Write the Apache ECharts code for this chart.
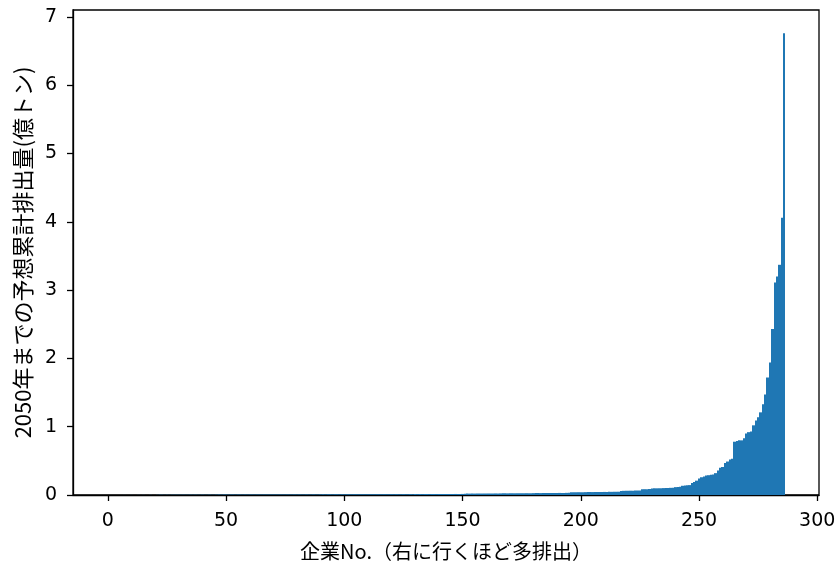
<!DOCTYPE html>
<html>
<head>
<meta charset="utf-8">
<script src="https://cdn.jsdelivr.net/npm/echarts@6/dist/echarts.min.js"></script>
<style>html,body{margin:0;padding:0;background:#fff}#c{width:840px;height:567px}</style>
</head>
<body>
<div id="c"></div>
<script>
const xTicks = [0, 50, 100, 150, 200, 250, 300];
const yTicks = [0, 1, 2, 3, 4, 5, 6, 7];
const xLabel = '企業No.（右に行くほど多排出）';
const yLabel = '2050年までの予想累計排出量(億トン)';
// 2050年までの予想累計排出量(億トン), sorted ascending, companies 0..286
const emissionsLow = [
  0.0001,0.0001,0.0002,0.0003,0.0003,0.0004,0.0005,0.0006,0.0006,0.0007,
  0.0008,0.0009,0.0010,0.0011,0.0011,0.0012,0.0013,0.0014,0.0015,0.0016,
  0.0017,0.0018,0.0020,0.0021,0.0022,0.0024,0.0025,0.0027,
  0.0040,0.0041,0.0042,0.0042,0.0043,0.0044,0.0045,0.0046,0.0046,0.0047,0.0048,0.0049,
  0.0050,0.0050,0.0051,0.0052,0.0053,0.0053,0.0054,0.0055,0.0056,0.0057,
  0.0057,0.0058,0.0059,0.0060,0.0061,0.0061,0.0062,0.0063,0.0064,0.0065,
  0.0066,0.0066,0.0067,0.0068,0.0069,0.0070,0.0070,0.0071,0.0072,0.0073,
  0.0074,0.0075,0.0075,0.0076,0.0077,0.0078,0.0079,0.0080,0.0080,0.0081,
  0.0082,0.0083,0.0084,0.0085,0.0086,0.0086,0.0087,0.0088,0.0089,0.0090,
  0.0091,0.0092,0.0093,0.0094,0.0094,0.0095,0.0096,0.0097,0.0098,0.0099,
  0.0100,0.0101,0.0102,0.0103,0.0104,0.0104,0.0105,0.0106,0.0107,0.0108,
  0.0109,0.0110,0.0111,0.0112,0.0113,0.0114,0.0115,0.0116,0.0117,0.0118,
  0.0119,0.0120,0.0121,0.0122,0.0123,0.0124,0.0125,0.0126,0.0127,0.0128,
  0.0129,0.0130,0.0131,0.0133,0.0134,0.0135,0.0136,0.0138,0.0139,0.0140,
  0.0142,0.0143,0.0145,0.0146,0.0148,0.0150,0.0151,0.0153,0.0155,0.0157,0.0159
];
const emissionsMid = [
  0.0200,0.0202,0.0205,0.0207,0.0210,0.0212,0.0214,0.0217,0.0219,0.0221,
  0.0224,0.0226,0.0229,0.0231,0.0233,0.0236,0.0238,0.0241,0.0243,0.0246,
  0.0248,0.0251,0.0253,0.0256,0.0258,0.0261,0.0264,0.0266,0.0269,0.0272,
  0.0275,0.0277,0.0280,0.0283,0.0286,0.0289,0.0292,0.0295,0.0298,0.0301,
  0.0304,0.0308,0.0311,0.0315,0.0318,
  0.0400,0.0403,0.0406,0.0409,0.0412,0.0416,0.0419,0.0423,0.0426,0.0430,
  0.0434,0.0438,0.0442,0.0446,0.0450,0.0455,0.0460,0.0465,0.0470,0.0476,0.0482,
  0.060,0.061,0.062,0.062,0.063,0.064,0.065,0.066,0.067,
  0.083,0.085,0.086,0.088,
  0.096,0.097,0.098,0.099,0.100,0.101,0.102,0.103,0.105,0.106,
  0.115,0.117,0.119,
  0.135,0.138,0.141,0.145
];
const emissionsHigh = [
  0.175,0.19,0.21,0.24,0.26,0.27,0.285,0.29,0.295,0.30,
  0.32,0.36,0.40,0.41,0.47,0.49,0.52,0.53,0.78,0.79,
  0.80,0.80,0.83,0.90,0.92,0.93,1.02,1.09,1.14,1.21,
  1.33,1.47,1.72,1.94,2.43,3.11,3.20,3.37,4.06,6.76
];
const emissions = emissionsLow.concat(emissionsMid, emissionsHigh);
const points = emissions.map((v, i) => [i, v]);

const JP = '"Noto Sans CJK JP", "Noto Sans", sans-serif';
const NUM = '"DejaVu Sans", "Noto Sans", sans-serif';
const chart = echarts.init(document.getElementById('c'), null, {renderer: 'canvas'});
chart.setOption({
  animation: false,
  backgroundColor: '#fff',
  grid: {left: 73, right: 21, top: 10, bottom: 72, show: true, borderColor: '#000', borderWidth: 1.3, backgroundColor: 'transparent'},
  xAxis: {
    type: 'value', min: -14.74, max: 300.74,
    name: xLabel, nameLocation: 'middle', nameGap: 46,
    nameTextStyle: {fontFamily: JP, fontSize: 20, color: '#000'},
    axisLine: {show: true, onZero: false, lineStyle: {color: '#000', width: 1.3}},
    axisTick: {show: true, length: 6, customValues: xTicks, lineStyle: {color: '#000', width: 1.3}},
    axisLabel: {customValues: xTicks, fontFamily: NUM, fontSize: 19, color: '#000', margin: 17},
    splitLine: {show: false}
  },
  yAxis: {
    type: 'value', min: 0, max: 7.1,
    name: yLabel, nameLocation: 'middle', nameGap: 35, nameRotate: 90,
    nameTextStyle: {fontFamily: JP, fontSize: 22, color: '#000'},
    axisLine: {show: true, onZero: false, lineStyle: {color: '#000', width: 1.3}},
    axisTick: {show: true, length: 6, customValues: yTicks, lineStyle: {color: '#000', width: 1.3}},
    axisLabel: {customValues: yTicks, fontFamily: NUM, fontSize: 19, color: '#000', margin: 16},
    splitLine: {show: false}
  },
  series: [{
    type: 'custom',
    data: points,
    clip: true,
    z: 1,
    renderItem: function (params, api) {
      const i = api.value(0), v = api.value(1);
      const p0 = api.coord([i - 0.5, v]);
      const p1 = api.coord([i + 0.5, 0]);
      const x0 = Math.round(p0[0]), x1 = Math.round(p1[0]);
      return {
        type: 'rect',
        shape: {x: x0, y: p0[1], width: x1 - x0, height: p1[1] - p0[1]},
        style: {fill: '#1f77b4'}
      };
    }
  }]
});
</script>
</body>
</html>
